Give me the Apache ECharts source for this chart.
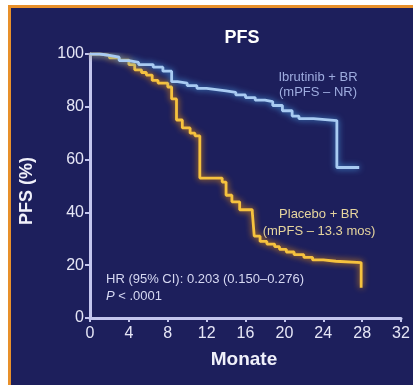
<!DOCTYPE html>
<html>
<head>
<meta charset="utf-8">
<script src="https://cdn.jsdelivr.net/npm/echarts@6/dist/echarts.min.js"></script>
<style>
  html, body { margin: 0; padding: 0; background: #ffffff; width: 413px; height: 385px; overflow: hidden; }
  #panel { position: absolute; left: 8px; top: 5px; width: 405px; height: 380px; box-sizing: border-box;
           background: #1d1f5c; border-left: 3px solid #e8902a; border-top: 3px solid #e8902a; }
  #chart { position: absolute; left: 0; top: 0; width: 413px; height: 385px; }
</style>
</head>
<body>
<div id="panel"></div>
<div id="chart"></div>
<script>
// Kaplan-Meier step points (months, PFS %)
const ibrutinibMonths = [0, 1, 2, 3, 4, 5, 6.5, 7.5, 8.4, 9, 10, 11, 12, 13, 14, 15, 16, 17, 18, 18.8, 19.8, 20.8, 21.5, 23, 25.4, 27.7];
const ibrutinibPFS    = [100, 99.5, 98.8, 97.5, 96.8, 96, 95, 93.5, 89.5, 89, 88, 87, 86.5, 86, 85.5, 84.5, 83.5, 82.5, 82, 80.5, 78.5, 76.5, 75.5, 74.8, 57, 57];
const placeboMonths = [0, 1, 2, 3, 4, 4.6, 5.3, 5.8, 6.4, 7, 8, 8.4, 8.9, 9.5, 10.3, 10.8, 11.3, 12, 13.6, 14, 14.6, 15.4, 16.7, 16.9, 17.5, 18.2, 19, 19.5, 20.2, 21, 22, 22.9, 24, 25.3, 27.9];
const placeboPFS    = [100, 99.5, 98.5, 97.7, 96, 94, 93, 92, 90, 89, 87.5, 83, 75, 72, 70, 69, 53, 53, 51.5, 46.5, 44, 41, 40, 31, 29, 28, 27, 26, 25, 24, 23, 22, 21.5, 21, 11.5];
const xTicks = [0, 4, 8, 12, 16, 20, 24, 28, 32];
const yTicks = [0, 20, 40, 60, 80, 100];
const titleText = 'PFS';
const xName = 'Monate';
const yName = 'PFS (%)';
const ibrutinibLabel = ['Ibrutinib + BR', '(mPFS – NR)'];
const placeboLabel = ['Placebo + BR', '(mPFS – 13.3 mos)'];
const statsLabel = ['HR (95% CI): 0.203 (0.150–0.276)', '{i|P} < .0001'];

const pairs = (xs, ys) => xs.map((x, i) => [x, ys[i]]);
const FONT = '"Liberation Sans", Arial, sans-serif';
const axisColor = '#c4c6ee';
const labelColor = '#e6e6f6';

const chart = echarts.init(document.getElementById('chart'), null, { renderer: 'canvas' });
chart.setOption({
  backgroundColor: 'transparent',
  animation: false,
  grid: { left: 90, right: 12, top: 54, bottom: 67, containLabel: false },
  xAxis: {
    type: 'value', min: 0, max: 32, interval: 4,
    axisLine: { show: true, onZero: false, lineStyle: { color: axisColor, width: 3 } },
    axisTick: { show: true, inside: false, length: 4, lineStyle: { color: axisColor, width: 2 } },
    axisLabel: { color: labelColor, fontFamily: FONT, fontSize: 16, margin: 8,
                 formatter: v => xTicks.includes(v) ? String(v) : '' },
    splitLine: { show: false }
  },
  yAxis: {
    type: 'value', min: 0, max: 100, interval: 20,
    axisLine: { show: true, lineStyle: { color: axisColor, width: 3 } },
    axisTick: { show: true, inside: false, length: 5, lineStyle: { color: axisColor, width: 2 } },
    axisLabel: { color: labelColor, fontFamily: FONT, fontSize: 16, margin: 6,
                 formatter: v => yTicks.includes(v) ? String(v) : '' },
    splitLine: { show: false }
  },
  series: [
    {
      name: 'Placebo + BR', type: 'line', step: 'end', symbol: 'none',
      data: pairs(placeboMonths, placeboPFS),
      lineStyle: { color: '#f6c23e', width: 2.8, shadowColor: '#e8900f', shadowBlur: 6 },
      z: 3
    },
    {
      name: 'Ibrutinib + BR', type: 'line', step: 'end', symbol: 'none',
      data: pairs(ibrutinibMonths, ibrutinibPFS),
      lineStyle: { color: '#a9cbf2', width: 2.8, shadowColor: '#4a9be0', shadowBlur: 6 },
      z: 4
    }
  ],
  graphic: [
    { type: 'text', style: { text: titleText, x: 242, y: 38, align: 'center', verticalAlign: 'middle',
      fill: '#ffffff', font: 'bold 18px ' + FONT } },
    { type: 'text', style: { text: xName, x: 244, y: 360, align: 'center', verticalAlign: 'middle',
      fill: '#f0f0fa', font: 'bold 19px ' + FONT } },
    { type: 'text', x: 27, y: 191, rotation: Math.PI / 2, style: { text: yName, x: 0, y: 0, align: 'center', verticalAlign: 'middle',
      fill: '#f0f0fa', font: 'bold 18px ' + FONT } },
    { type: 'text', style: { text: ibrutinibLabel.join('\n'), x: 318, y: 85, align: 'center', verticalAlign: 'middle',
      fill: '#9eacdf', font: '13px ' + FONT, lineHeight: 15 } },
    { type: 'text', style: { text: placeboLabel.join('\n'), x: 319, y: 223, align: 'center', verticalAlign: 'middle',
      fill: '#e6d59e', font: '13px ' + FONT, lineHeight: 17 } },
    { type: 'text', style: { text: statsLabel.join('\n'), x: 106, y: 288, align: 'left', verticalAlign: 'middle',
      fill: '#d6d8f2', font: '13px ' + FONT, lineHeight: 17,
      rich: { i: { fontStyle: 'italic', fontFamily: FONT, fontSize: 13, fill: '#d6d8f2' } } } }
  ]
});
</script>
</body>
</html>
